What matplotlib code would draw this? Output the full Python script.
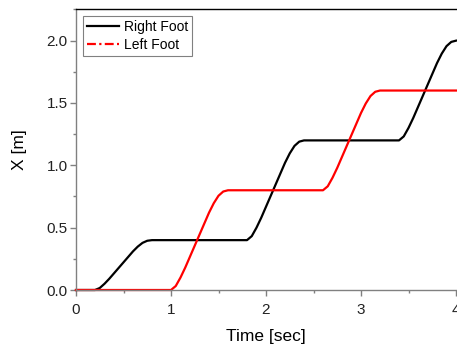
import matplotlib
matplotlib.use('Agg')
import matplotlib.pyplot as plt
from matplotlib.lines import Line2D
from matplotlib.ticker import MultipleLocator

plt.rcParams['font.family'] = ['Liberation Sans', 'DejaVu Sans']

# foot positions
right_t = [0.0,
           0.20, 0.25, 0.30, 0.35, 0.40, 0.45, 0.50, 0.55, 0.60, 0.65, 0.70, 0.75, 0.80,
           1.80, 1.85, 1.90, 1.95, 2.00, 2.05, 2.10, 2.15, 2.20, 2.25, 2.30, 2.35, 2.40,
           3.40, 3.45, 3.50, 3.55, 3.60, 3.65, 3.70, 3.75, 3.80, 3.85, 3.90, 3.95, 4.00]
right_x = [0.0,
           0.0, 0.016, 0.05, 0.09, 0.134, 0.178, 0.222, 0.266, 0.31, 0.348, 0.378, 0.395, 0.40,
           0.40, 0.432, 0.50, 0.58, 0.668, 0.756, 0.844, 0.932, 1.02, 1.096, 1.156, 1.19, 1.20,
           1.20, 1.232, 1.30, 1.38, 1.468, 1.556, 1.644, 1.732, 1.82, 1.896, 1.956, 1.99, 2.00]

left_t = [0.0,
          1.00, 1.05, 1.10, 1.15, 1.20, 1.25, 1.30, 1.35, 1.40, 1.45, 1.50, 1.55, 1.60,
          2.60, 2.65, 2.70, 2.75, 2.80, 2.85, 2.90, 2.95, 3.00, 3.05, 3.10, 3.15, 3.20,
          4.00]
left_x = [0.0,
          0.0, 0.032, 0.10, 0.18, 0.268, 0.356, 0.444, 0.532, 0.62, 0.696, 0.756, 0.79, 0.80,
          0.80, 0.832, 0.90, 0.98, 1.068, 1.156, 1.244, 1.332, 1.42, 1.496, 1.556, 1.59, 1.60,
          1.60]

labels = ['Right Foot', 'Left Foot']

fig = plt.figure(figsize=(4.57, 3.49), dpi=100)
ax = fig.add_axes([76/457, 59/349, 380/457, 281/349])

ax.plot(right_t, right_x, color='black', lw=1.6, clip_on=False)
ax.plot(left_t, left_x, color='red', lw=1.6, clip_on=False)

ax.set_xlim(0, 4)
ax.set_ylim(0, 2.254)
ax.xaxis.set_major_locator(MultipleLocator(1))
ax.xaxis.set_minor_locator(MultipleLocator(0.5))
ax.yaxis.set_minor_locator(MultipleLocator(0.25))
ax.set_yticks([0, 0.5, 1.0, 1.5, 2.0])
ax.set_yticklabels(['0.0', '0.5', '1.0', '1.5', '2.0'])

gray = '#808080'
for s in ['left', 'bottom']:
    ax.spines[s].set_color(gray)
    ax.spines[s].set_linewidth(1.0)
ax.spines['top'].set_color('black')
ax.spines['top'].set_linewidth(1.0)
ax.spines['right'].set_visible(False)

ax.tick_params(which='major', direction='out', length=4, width=1, color=gray,
               labelsize=11, labelcolor='#222222', top=False, right=False)
ax.tick_params(which='minor', direction='out', length=2.5, width=1, color=gray,
               top=False, right=False)
ax.tick_params(axis='x', pad=5)
ax.tick_params(axis='y', pad=2)

ax.set_xlabel('Time [sec]', fontsize=12.5, labelpad=9)
ax.set_ylabel('X [m]', fontsize=12.5, labelpad=14)

handles = [Line2D([], [], color='black', lw=1.6),
           Line2D([], [], color='red', lw=1.6, ls=(0, (4, 1.5, 1, 1.5)))]
leg = ax.legend(handles, labels, loc='upper left', fontsize=10, frameon=True,
                fancybox=False, edgecolor=gray, framealpha=1,
                handlelength=2.3, handletextpad=0.35, labelspacing=0.25,
                borderpad=0.3, borderaxespad=0.5)
leg.get_frame().set_linewidth(0.8)

fig.savefig('out.png', dpi=100)
